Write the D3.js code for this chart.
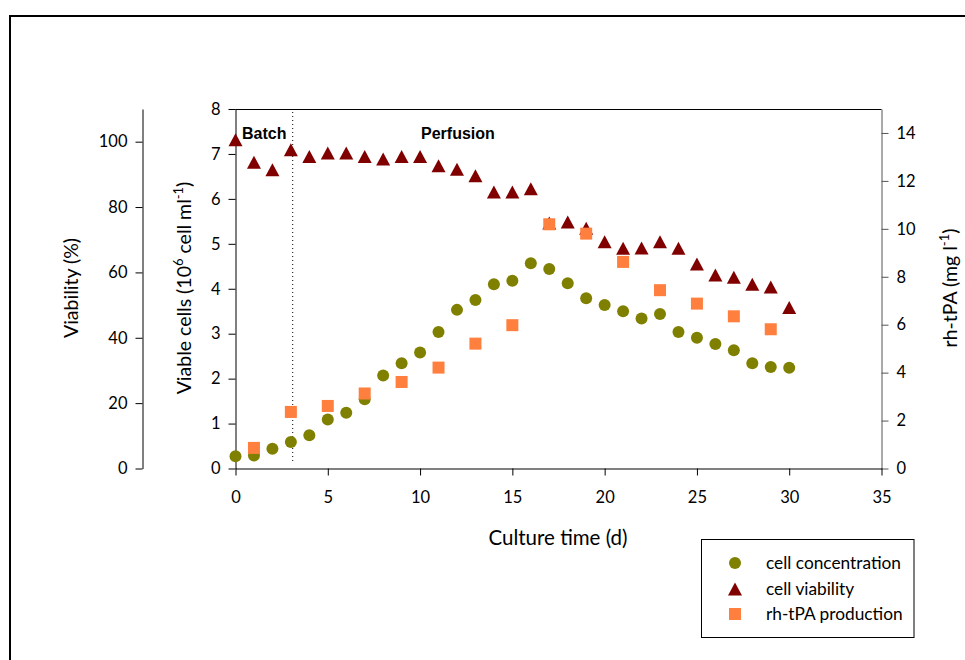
<!DOCTYPE html>
<html>
<head>
<meta charset="utf-8">
<script src="https://cdn.jsdelivr.net/npm/d3@7"></script>
<style>
  html, body { margin: 0; padding: 0; background: #fff; }
  svg { display: block; }
</style>
</head>
<body>
<svg id="chart" width="965" height="660"></svg>
<script>
// ---- data ----
const days = [0,1,2,3,4,5,6,7,8,9,10,11,12,13,14,15,16,17,18,19,20,21,22,23,24,25,26,27,28,29,30];
const cellConcentration = [0.27,0.29,0.44,0.59,0.74,1.09,1.24,1.54,2.07,2.34,2.58,3.04,3.53,3.75,4.10,4.18,4.57,4.44,4.12,3.79,3.64,3.50,3.34,3.44,3.04,2.91,2.77,2.63,2.34,2.26,2.24];
const cellViability = [100.6,93.7,91.4,97.5,95.5,96.5,96.5,95.5,94.7,95.5,95.5,92.6,91.6,89.6,84.6,84.6,85.6,75.1,75.4,73.5,69.4,67.4,67.5,69.4,67.4,62.6,59.2,58.5,56.4,55.5,49.3];
const tpaDays = [1,3,5,7,9,11,13,15,17,19,21,23,25,27,29];
const tpaProduction = [0.86,2.36,2.61,3.13,3.61,4.21,5.21,5.98,10.19,9.80,8.62,7.44,6.88,6.35,5.81];
const xTicks = [0,5,10,15,20,25,30,35];
const viabilityTicks = [0,20,40,60,80,100];
const cellTicks = [0,1,2,3,4,5,6,7,8];
const tpaTicks = [0,2,4,6,8,10,12,14];
const batchEnd = 3.1;
const legendLabels = ["cell concentration","cell viability","rh-tPA production"];

// ---- layout ----
const svg = d3.select("#chart");
const font = 'Lato, "Open Sans", sans-serif';
const plotTop = 109, plotBottom = 468.5;
const x = d3.scaleLinear().domain([0,35]).range([235.5, 881.5]);
const yCells = d3.scaleLinear().domain([0,8]).range([plotBottom, plotTop]);
const yVia = d3.scaleLinear().domain([0,110]).range([plotBottom, plotTop]);
const yTpa = d3.scaleLinear().domain([0,15]).range([plotBottom, plotTop]);

const cOlive = "#808000", cRed = "#800000", cOrange = "#FF7F3F";

// outer frame (top and left only)
svg.append("path").attr("d", "M10,660 L10,16 L965,16")
  .attr("fill","none").attr("stroke","#000").attr("stroke-width",2);

// top border of the plot area
svg.append("line").attr("x1", x(0)).attr("x2", x(35)).attr("y1", plotTop+0.5).attr("y2", plotTop+0.5)
  .attr("stroke","#000");

// axes
function styleAxis(g, color) {
  g.select(".domain").attr("stroke", color);
  g.selectAll(".tick line").attr("stroke", color);
}
const gVia = svg.append("g").attr("transform","translate(142.5,0)")
  .call(d3.axisLeft(yVia).tickValues(viabilityTicks).tickSize(7).tickSizeOuter(0).tickPadding(8));
styleAxis(gVia, "#000");

const gCells = svg.append("g").attr("transform",`translate(${x(0)},0)`)
  .call(d3.axisLeft(yCells).tickValues(cellTicks).tickSize(7).tickSizeOuter(0).tickPadding(8));
styleAxis(gCells, "#000");

const gTpa = svg.append("g").attr("transform",`translate(${x(35)},0)`)
  .call(d3.axisRight(yTpa).tickValues(tpaTicks).tickSize(7).tickSizeOuter(0).tickPadding(8));
styleAxis(gTpa, "#555");

const gX = svg.append("g").attr("transform",`translate(0,${plotBottom})`)
  .call(d3.axisBottom(x).tickValues(xTicks).tickSize(7).tickSizeOuter(0).tickPadding(16));
styleAxis(gX, "#000");

[gVia, gCells, gTpa, gX].forEach(g => g.attr("font-family", font).attr("font-size", 16.5));
svg.selectAll(".tick text").attr("fill","#000");

// batch / perfusion separator
svg.append("line").attr("x1", x(batchEnd)).attr("x2", x(batchEnd))
  .attr("y1", 112).attr("y2", 464)
  .attr("stroke","#000").attr("stroke-width",1).attr("stroke-dasharray","1,3");

svg.append("text").attr("x", 242).attr("y", 139).text("Batch")
  .attr("font-family","Liberation Sans, Arial, sans-serif").attr("font-weight","bold").attr("font-size",16);
svg.append("text").attr("x", 421).attr("y", 139).text("Perfusion")
  .attr("font-family","Liberation Sans, Arial, sans-serif").attr("font-weight","bold").attr("font-size",16);

// axis titles
svg.append("text").attr("transform","translate(78,288) rotate(-90)")
  .attr("text-anchor","middle").attr("font-family",font).attr("font-size",19.5)
  .text("Viability (%)");

const t2 = svg.append("text").attr("transform","translate(191,288) rotate(-90)")
  .attr("text-anchor","middle").attr("font-family",font).attr("font-size",19.5);
t2.append("tspan").text("Viable cells (10");
t2.append("tspan").attr("baseline-shift","super").attr("font-size",13).text("6");
t2.append("tspan").text(" cell ml");
t2.append("tspan").attr("baseline-shift","super").attr("font-size",13).text("-1");
t2.append("tspan").text(")");

const t3 = svg.append("text").attr("transform","translate(957,288) rotate(-90)")
  .attr("text-anchor","middle").attr("font-family",font).attr("font-size",19.5);
t3.append("tspan").text("rh-tPA (mg l");
t3.append("tspan").attr("baseline-shift","super").attr("font-size",13).text("-1");
t3.append("tspan").text(")");

svg.append("text").attr("x", 558).attr("y", 545).attr("text-anchor","middle")
  .attr("font-family",font).attr("font-size",20.5).text("Culture time (d)");

// markers
const triPath = "M0,-6.5 L7,6.5 L-7,6.5 Z";
svg.append("g").selectAll("circle").data(days).join("circle")
  .attr("cx", d => x(d)).attr("cy", (d,i) => yCells(cellConcentration[i]))
  .attr("r", 6).attr("fill", cOlive);
svg.append("g").selectAll("path").data(days).join("path")
  .attr("transform", (d,i) => `translate(${x(d)},${yVia(cellViability[i])})`)
  .attr("d", triPath).attr("fill", cRed);
svg.append("g").selectAll("rect").data(tpaDays).join("rect")
  .attr("x", d => x(d) - 6).attr("y", (d,i) => yTpa(tpaProduction[i]) - 6)
  .attr("width", 12).attr("height", 12).attr("fill", cOrange);

// legend
const lg = svg.append("g");
lg.append("rect").attr("x",701.5).attr("y",539.5).attr("width",212.5).attr("height",98)
  .attr("fill","#fff").attr("stroke","#000");
const rowsY = [563, 589, 614];
lg.append("circle").attr("cx",735).attr("cy",rowsY[0]).attr("r",6).attr("fill",cOlive);
lg.append("path").attr("transform",`translate(735,${rowsY[1]})`).attr("d",triPath).attr("fill",cRed);
lg.append("rect").attr("x",729).attr("y",rowsY[2]-6).attr("width",12).attr("height",12).attr("fill",cOrange);
lg.selectAll("text").data(legendLabels).join("text")
  .attr("x",766).attr("y",(d,i)=>rowsY[i]).attr("dy","0.35em")
  .attr("font-family",font).attr("font-size",17.3).text(d=>d);
</script>
</body>
</html>
